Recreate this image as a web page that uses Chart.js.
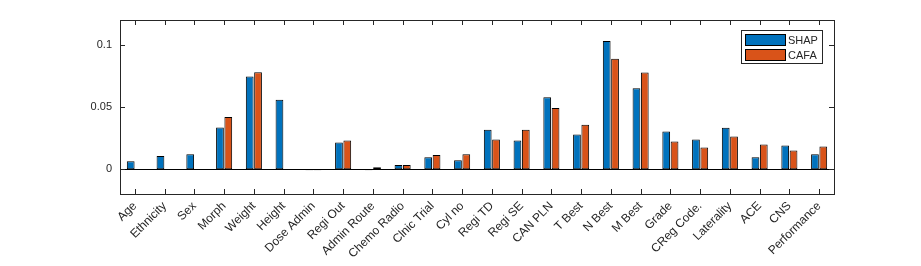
<!DOCTYPE html>
<html>
<head>
<meta charset="utf-8">
<script src="https://cdn.jsdelivr.net/npm/chart.js@4.4.1/dist/chart.umd.min.js"></script>
<style>
  html, body { margin: 0; padding: 0; background: #fff; }
  #wrap { width: 921px; height: 266px; }
</style>
</head>
<body>
<div id="wrap"><canvas id="chart1"></canvas></div>
<script>
const features = ['Age', 'Ethnicity', 'Sex', 'Morph', 'Weight', 'Height', 'Dose Admin', 'Regi Out',
  'Admin Route', 'Chemo Radio', 'Clnic Trial', 'Cyl no', 'Regi TD', 'Regi SE', 'CAN PLN', 'T Best',
  'N Best', 'M Best', 'Grade', 'CReg Code.', 'Laterality', 'ACE', 'CNS', 'Performance']

const shapValues = [0.0063, 0.0106, 0.0119, 0.0336, 0.0746, 0.0558, -0.0008, 0.0214,
  -0.0008, 0.0034, 0.0095, 0.0071, 0.0317, 0.0230, 0.0579, 0.0278,
  0.1032, 0.0651, 0.0302, 0.0238, 0.0333, 0.0095, 0.0190, 0.0119]

const cafaValues = [0, 0, 0, 0.0420, 0.0780, 0, -0.0008, 0.0230,
  0.0016, 0.0034, 0.0113, 0.0119, 0.0238, 0.0317, 0.0492, 0.0357,
  0.0889, 0.0778, 0.0222, 0.0175, 0.0262, 0.0198, 0.0151, 0.0183]

const yTicks = [0, 0.05, 0.1]

const colors = {
  shap: '#0072BD',
  cafa: '#D95319',
  axis: '#262626'
}

const fontFamily = '"Liberation Sans", Arial, Helvetica, sans-serif'

// matlab style box, inside ticks and zero baseline
const framePlugin = {
  id: 'frame',
  afterDatasetsDraw(chart) {
    const { ctx, chartArea: a, scales: { x, y } } = chart
    ctx.save()
    ctx.strokeStyle = '#000'
    ctx.lineWidth = 1
    const y0 = Math.round(y.getPixelForValue(0)) + 0.5
    ctx.beginPath()
    ctx.moveTo(a.left, y0)
    ctx.lineTo(a.right, y0)
    ctx.stroke()

    ctx.strokeStyle = colors.axis
    ctx.beginPath()
    x.ticks.forEach((t, i) => {
      const px = Math.round(x.getPixelForTick(i)) + 0.5
      ctx.moveTo(px, a.top); ctx.lineTo(px, a.top + 5)
      ctx.moveTo(px, a.bottom); ctx.lineTo(px, a.bottom - 5)
    })
    y.ticks.forEach((t, i) => {
      const py = Math.round(y.getPixelForTick(i)) + 0.5
      ctx.moveTo(a.left, py); ctx.lineTo(a.left + 5, py)
      ctx.moveTo(a.right, py); ctx.lineTo(a.right - 5, py)
    })
    ctx.stroke()
    ctx.strokeRect(Math.round(a.left) + 0.5, Math.round(a.top) + 0.5,
      Math.round(a.right - a.left), Math.round(a.bottom - a.top))
    ctx.restore()
  }
}

// legend box in the top right corner of the axes
const boxLegend = {
  id: 'boxLegend',
  afterDraw(chart) {
    const { ctx, chartArea: a } = chart
    const sets = chart.data.datasets
    const w = 81, rowH = 15, h = sets.length * rowH + 3
    const left = a.right - 12 - w, top = a.top + 10
    ctx.save()
    ctx.fillStyle = '#fff'
    ctx.fillRect(left, top, w, h)
    ctx.strokeStyle = colors.axis
    ctx.lineWidth = 1
    ctx.strokeRect(left + 0.5, top + 0.5, w, h)
    ctx.font = '11px ' + fontFamily
    ctx.textBaseline = 'middle'
    sets.forEach((ds, i) => {
      const ry = top + 4 + i * rowH
      ctx.fillStyle = ds.backgroundColor
      ctx.fillRect(left + 4, ry, 40, 11)
      ctx.strokeStyle = '#000'
      ctx.strokeRect(left + 4.5, ry + 0.5, 40, 11)
      ctx.fillStyle = colors.axis
      ctx.fillText(ds.label, left + 47, ry + 6.5)
    })
    ctx.restore()
  }
}

const data = {
  labels: features,
  datasets: [
    { label: 'SHAP', data: shapValues, backgroundColor: colors.shap },
    { label: 'CAFA', data: cafaValues, backgroundColor: colors.cafa }
  ]
}

const options = {
  responsive: true,
  maintainAspectRatio: false,
  animation: false,
  layout: { padding: { left: 0, top: 20, right: 87, bottom: 0 } },
  datasets: {
    bar: {
      categoryPercentage: 0.56,
      barPercentage: 0.93,
      borderColor: '#000',
      borderWidth: 1,
      borderSkipped: false
    }
  },
  plugins: {
    legend: { display: false },
    tooltip: { enabled: false }
  },
  scales: {
    x: {
      grid: { display: false, drawTicks: false },
      border: { display: false },
      ticks: {
        autoSkip: false,
        minRotation: 45,
        maxRotation: 45,
        padding: 5,
        color: colors.axis,
        font: { family: fontFamily, size: 12 }
      },
      afterFit(scale) { scale.height = 72 }
    },
    y: {
      min: -0.02,
      max: 0.12,
      grid: { display: false, drawTicks: false },
      border: { display: false },
      ticks: {
        padding: 8,
        color: colors.axis,
        font: { family: fontFamily, size: 11 },
        callback: v => String(v)
      },
      afterBuildTicks(scale) { scale.ticks = yTicks.map(v => ({ value: v })) },
      afterFit(scale) { scale.width = 120 }
    }
  }
}

new Chart('chart1', {
  type: 'bar',
  data,
  options,
  plugins: [framePlugin, boxLegend]
})
</script>
</body>
</html>
